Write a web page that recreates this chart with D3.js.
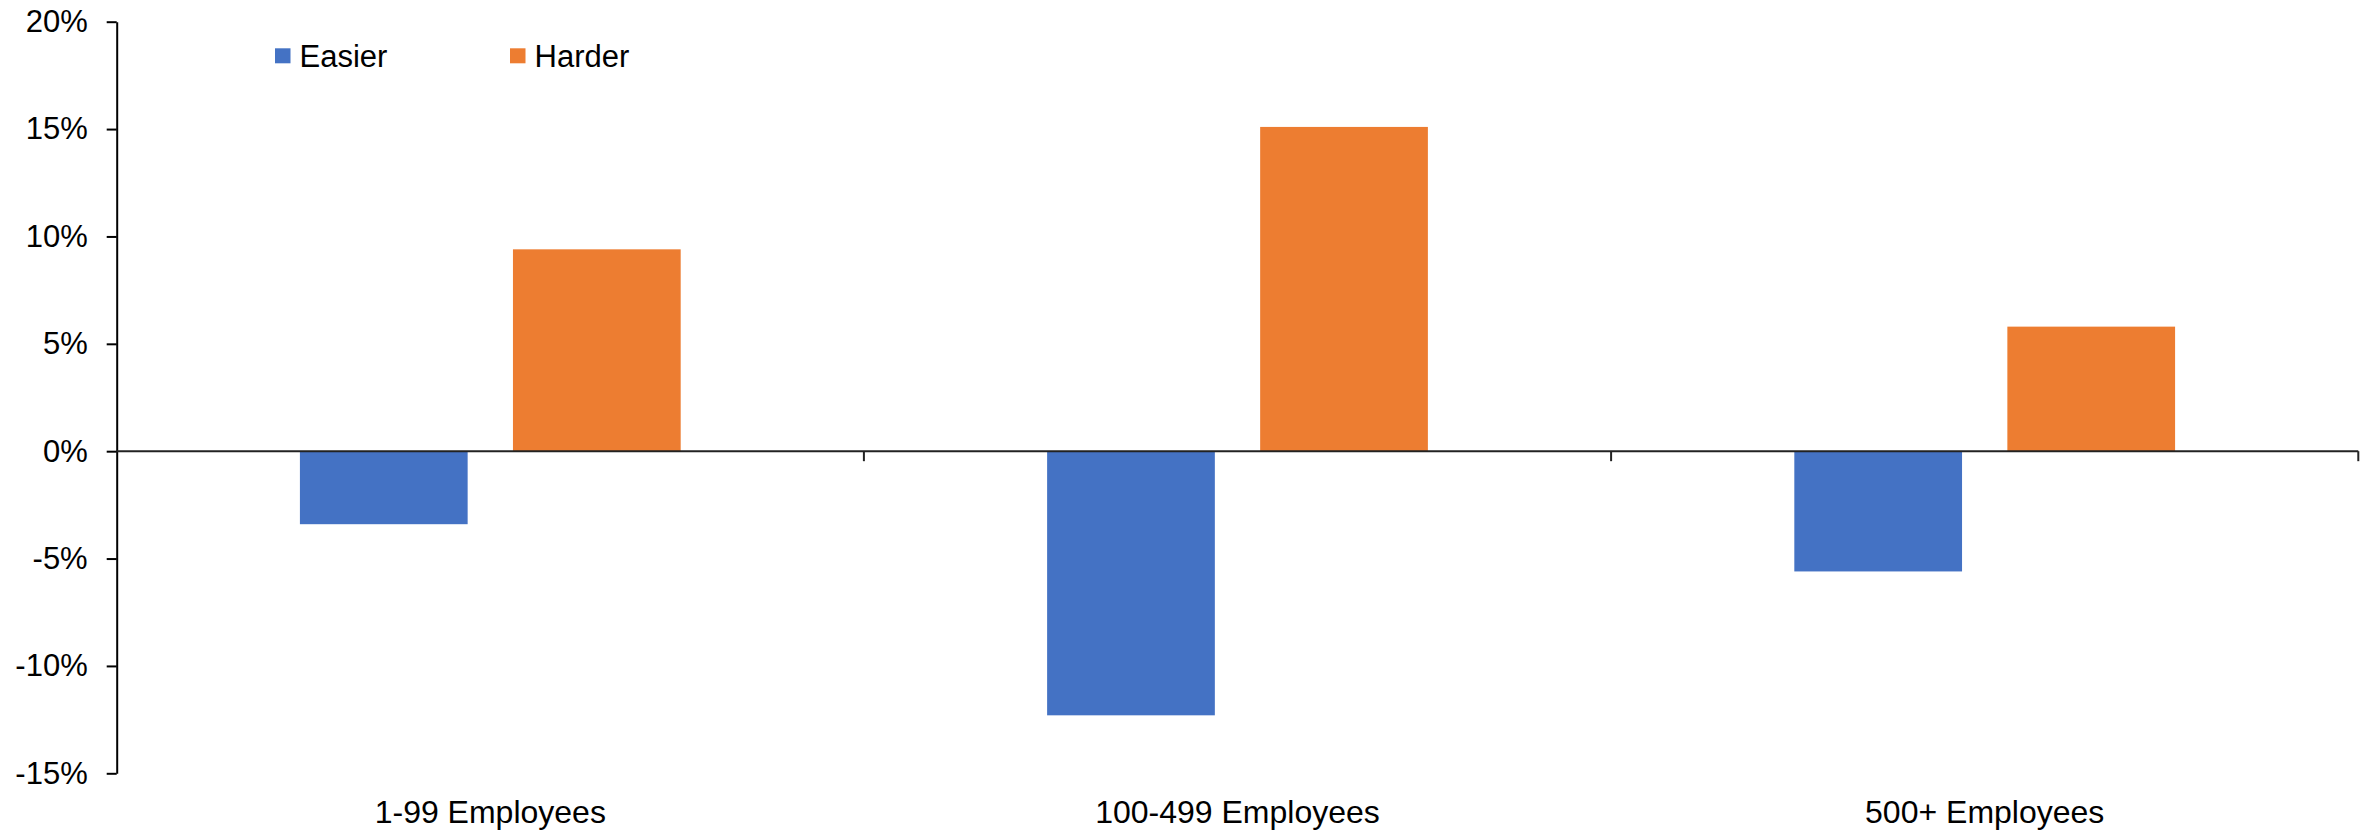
<!DOCTYPE html>
<html>
<head>
<meta charset="utf-8">
<script src="https://cdn.jsdelivr.net/npm/d3@7"></script>
<style>
  html, body { margin: 0; padding: 0; background: #ffffff; }
  svg { display: block; font-family: "Liberation Sans", Arial, Helvetica, sans-serif; }
</style>
</head>
<body>
<svg id="chart" width="2369" height="830"></svg>
<script>
// Company size groups
const categories = ["1-99 Employees", "100-499 Employees", "500+ Employees"];
// Series names and colours
const seriesNames = ["Easier", "Harder"];
const seriesColors = ["#4472C4", "#ED7D31"];
// Net share of respondents (%)
const easierValues = [-3.4, -12.3, -5.6];
const harderValues = [9.4, 15.1, 5.8];
// Y axis ticks (%)
const yTicks = [-15, -10, -5, 0, 5, 10, 15, 20];

const svg = d3.select("#chart");
const plot = { left: 116.7, right: 2358.3, top: 21.7, bottom: 773.3 };
const tickFont = 31;
const catFont = 32;

const y = d3.scaleLinear().domain([-15, 20]).range([plot.bottom, plot.top]);
const x0 = d3.scaleBand().domain(categories).range([plot.left, plot.right]).padding(0);
const x1 = d3.scaleBand().domain(seriesNames).range([0, x0.bandwidth()])
  .paddingInner(0.2127).paddingOuter(0.86);

const rows = categories.map((c, i) => ({
  category: c,
  values: [
    { series: seriesNames[0], value: easierValues[i], color: seriesColors[0] },
    { series: seriesNames[1], value: harderValues[i], color: seriesColors[1] }
  ]
}));

// Bars
svg.append("g").selectAll("g")
  .data(rows)
  .join("g")
  .attr("transform", d => `translate(${x0(d.category)},0)`)
  .selectAll("rect")
  .data(d => d.values)
  .join("rect")
  .attr("x", d => x1(d.series))
  .attr("width", x1.bandwidth())
  .attr("y", d => y(Math.max(0, d.value)))
  .attr("height", d => Math.abs(y(d.value) - y(0)))
  .attr("fill", d => d.color);

// Y axis
const yAxis = d3.axisLeft(y)
  .tickValues(yTicks)
  .tickSize(10)
  .tickSizeOuter(0)
  .tickPadding(19)
  .tickFormat(d => d + "%");

const gy = svg.append("g")
  .attr("transform", `translate(${plot.left},0)`)
  .call(yAxis);
gy.select(".domain").attr("stroke", "#000").attr("stroke-width", 2);
gy.selectAll(".tick line").attr("stroke", "#000").attr("stroke-width", 2);
gy.selectAll(".tick text")
  .attr("fill", "#000")
  .style("font-size", tickFont + "px")
  .style("font-family", "'Liberation Sans', Arial, sans-serif");

// Category axis along zero
const gx = svg.append("g");
gx.append("line")
  .attr("x1", plot.left).attr("x2", plot.right)
  .attr("y1", y(0)).attr("y2", y(0))
  .attr("stroke", "#222").attr("stroke-width", 2);

const boundaries = categories.map(c => x0(c) + x0.bandwidth());
gx.selectAll("line.sep")
  .data(boundaries)
  .join("line")
  .attr("class", "sep")
  .attr("x1", d => d).attr("x2", d => d)
  .attr("y1", y(0)).attr("y2", y(0) + 10)
  .attr("stroke", "#222").attr("stroke-width", 2);

gx.selectAll("text")
  .data(categories)
  .join("text")
  .attr("x", d => x0(d) + x0.bandwidth() / 2)
  .attr("y", 822.7)
  .attr("text-anchor", "middle")
  .attr("fill", "#000")
  .style("font-size", catFont + "px")
  .text(d => d);

// Legend
const legendX = [275, 510];
const legend = svg.append("g")
  .selectAll("g")
  .data(seriesNames)
  .join("g")
  .attr("transform", (d, i) => `translate(${legendX[i]},48.3)`);
legend.append("rect")
  .attr("width", 15.5).attr("height", 15)
  .attr("fill", (d, i) => seriesColors[i]);
legend.append("text")
  .attr("x", 24.5).attr("y", 18.4)
  .attr("fill", "#000")
  .style("font-size", tickFont + "px")
  .text(d => d);
</script>
</body>
</html>
